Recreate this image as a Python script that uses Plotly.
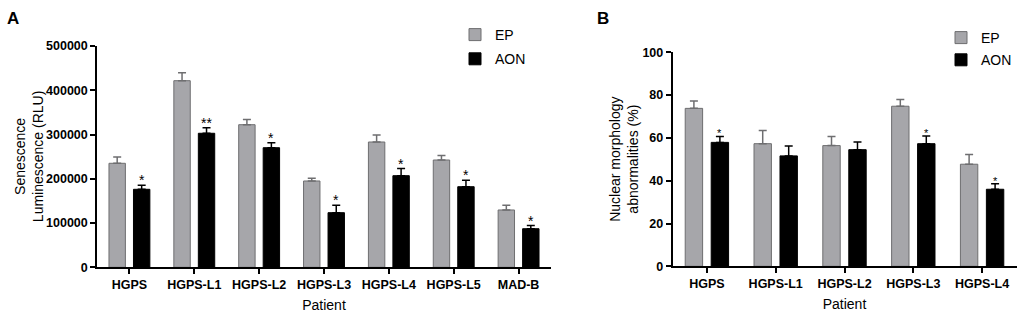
import plotly.graph_objects as go

# ---------------- data ----------------
cats_A = ["HGPS", "HGPS-L1", "HGPS-L2", "HGPS-L3", "HGPS-L4", "HGPS-L5", "MAD-B"]
ep_A = [235000, 421600, 322200, 195000, 283100, 242400, 129500]
ep_A_err = [14000, 18000, 12000, 6000, 16000, 10000, 10500]
aon_A = [176200, 302800, 270200, 123400, 207000, 182100, 87200]
aon_A_err = [9000, 12500, 11000, 16600, 16000, 14500, 7000]
sig_A = ["*", "**", "*", "*", "*", "*", "*"]

cats_B = ["HGPS", "HGPS-L1", "HGPS-L2", "HGPS-L3", "HGPS-L4"]
ep_B = [73.8, 57.3, 56.4, 74.8, 47.7]
ep_B_err = [3.5, 6.1, 4.2, 3.1, 4.6]
aon_B = [57.9, 51.6, 54.5, 57.3, 36.0]
aon_B_err = [2.8, 4.6, 3.6, 3.6, 2.6]
sig_B = ["*", "", "", "*", "*"]

yticks_A = [0, 100000, 200000, 300000, 400000, 500000]
yticks_B = [0, 20, 40, 60, 80, 100]

# ---------------- style ----------------
W, H = 1024, 320
FONT = "Liberation Sans, Arial, sans-serif"
EP_FILL = "#a6a6aa"
EP_LINE = "#6e6e70"
AON_FILL = "#000000"
BARGAP = 0.245
GROUPGAP = 0.33

domA_x = [97 / W, 551 / W]
domB_x = [672.5 / W, 1016.5 / W]
domA_y = [1 - 267.3 / H, 1 - 46 / H]
domB_y = [1 - 266.3 / H, 1 - 52.3 / H]

fig = go.Figure()


def add_pair(cats, ep, ep_err, aon, aon_err, xa, ya, legend):
    fig.add_trace(go.Bar(
        x=cats, y=ep, name="EP", xaxis=xa, yaxis=ya, legend=legend,
        legendgroup=legend + "ep",
        marker=dict(color=EP_FILL, line=dict(color=EP_LINE, width=1)),
        error_y=dict(type="data", array=ep_err, arrayminus=[0] * len(ep_err),
                     symmetric=False, color=EP_LINE, thickness=1.5, width=4),
    ))
    fig.add_trace(go.Bar(
        x=cats, y=aon, name="AON", xaxis=xa, yaxis=ya, legend=legend,
        legendgroup=legend + "aon",
        marker=dict(color=AON_FILL, line=dict(color="#000000", width=1)),
        error_y=dict(type="data", array=aon_err, arrayminus=[0] * len(aon_err),
                     symmetric=False, color="#000000", thickness=1.5, width=4),
    ))


add_pair(cats_A, ep_A, ep_A_err, aon_A, aon_A_err, "x", "y", "legend")
add_pair(cats_B, ep_B, ep_B_err, aon_B, aon_B_err, "x2", "y2", "legend2")

annotations = []


def add_sig(cats, aon, aon_err, sig, dom, xref, yref, size):
    cat_px = (dom[1] - dom[0]) * W / len(cats)
    shift = cat_px * (1 - BARGAP) / 4
    for c, v, e, s in zip(cats, aon, aon_err, sig):
        if s:
            annotations.append(dict(
                x=c, y=v + e, xref=xref, yref=yref, text=s, showarrow=False,
                xanchor="center", yanchor="bottom", xshift=shift, yshift=-5,
                font=dict(family=FONT, size=size, color="#000000")))


add_sig(cats_A, aon_A, aon_A_err, sig_A, domA_x, "x", "y", 14)
add_sig(cats_B, aon_B, aon_B_err, sig_B, domB_x, "x2", "y2", 11)

title_font = dict(family=FONT, size=14, color="#000000")

# panel letters
annotations.append(dict(x=5 / W, y=1 - 19 / H, xref="paper", yref="paper", text="<b>A</b>",
                        showarrow=False, xanchor="left", yanchor="middle",
                        font=dict(family=FONT, size=17, color="#000000")))
annotations.append(dict(x=595 / W, y=1 - 19 / H, xref="paper", yref="paper", text="<b>B</b>",
                        showarrow=False, xanchor="left", yanchor="middle",
                        font=dict(family=FONT, size=17, color="#000000")))
# y-axis titles
annotations.append(dict(x=28.5 / W, y=(domA_y[0] + domA_y[1]) / 2, xref="paper", yref="paper",
                        text="Senescence<br>Luminescence (RLU)", textangle=-90,
                        showarrow=False, xanchor="center", yanchor="middle", font=title_font))
annotations.append(dict(x=624.5 / W, y=(domB_y[0] + domB_y[1]) / 2, xref="paper", yref="paper",
                        text="Nuclear morphology<br>abnormalities (%)", textangle=-90,
                        showarrow=False, xanchor="center", yanchor="middle", font=title_font))

axis_common = dict(showline=True, linecolor="#000000", linewidth=1.5, ticks="outside",
                   ticklen=5, tickwidth=1.5, tickcolor="#000000", showgrid=False,
                   zeroline=False, automargin=False,
                   tickfont=dict(family=FONT, size=12.5, color="#000000", weight="bold"))

fig.update_layout(
    width=W, height=H,
    margin=dict(l=0, r=0, t=0, b=0),
    paper_bgcolor="white", plot_bgcolor="white",
    barmode="group", bargap=BARGAP, bargroupgap=GROUPGAP,
    font=dict(family=FONT, color="#000000"),
    xaxis=dict(domain=domA_x, anchor="y", range=[-0.5, len(cats_A) - 0.5],
               title=dict(text="Patient", font=title_font, standoff=9), **axis_common),
    yaxis=dict(domain=domA_y, anchor="x", range=[0, 500000], tickvals=yticks_A,
               ticktext=[str(v) for v in yticks_A], **axis_common),
    xaxis2=dict(domain=domB_x, anchor="y2", range=[-0.5, len(cats_B) - 0.5],
                title=dict(text="Patient", font=title_font, standoff=9), **axis_common),
    yaxis2=dict(domain=domB_y, anchor="x2", range=[0, 100], tickvals=yticks_B,
                **axis_common),
    legend=dict(x=455 / W, y=1 - 19 / H, xanchor="left", yanchor="top",
                traceorder="grouped", tracegroupgap=3, bgcolor="rgba(0,0,0,0)",
                font=dict(family=FONT, size=14, color="#000000")),
    legend2=dict(x=941 / W, y=1 - 22 / H, xanchor="left", yanchor="top",
                 traceorder="grouped", tracegroupgap=1, bgcolor="rgba(0,0,0,0)",
                 font=dict(family=FONT, size=14, color="#000000")),
    annotations=annotations,
)

fig.write_html("out.html", config={"displayModeBar": False},
               post_script="document.body.style.margin='0';document.body.style.padding='0';")
